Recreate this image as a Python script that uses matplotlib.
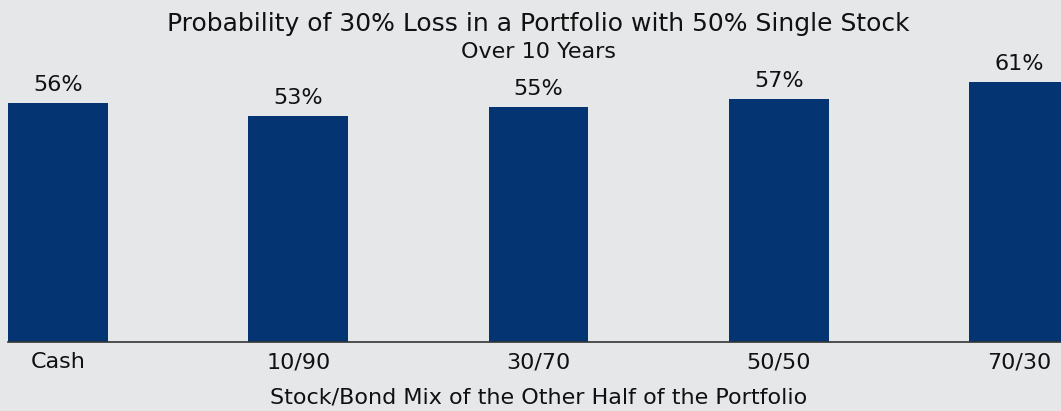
import matplotlib
matplotlib.use("Agg")
import matplotlib.pyplot as plt

# chart data
categories = ["Cash", "10/90", "30/70", "50/50", "70/30"]
probabilities = [56, 53, 55, 57, 61]

BG = "#e6e7e9"
NAVY = "#053473"

plt.rcParams['font.family'] = ['DejaVu Sans']

fig = plt.figure(figsize=(10.61, 4.11), dpi=100, facecolor=BG)
W, H = 1061, 411

# axes spans from left edge of first bar to right edge of last bar (beyond figure)
left_px, right_px = 8, 1069
base_px, top_px = 342, 60
ax = fig.add_axes([left_px / W, (H - base_px) / H,
                   (right_px - left_px) / W, (base_px - top_px) / H])
ax.set_facecolor(BG)

x = list(range(len(categories)))
bars = ax.bar(x, probabilities, width=0.416, color=NAVY, zorder=2)
ax.set_xlim(-0.208, len(categories) - 1 + 0.208)
ax.set_ylim(0, (base_px - top_px) / 4.27)

for bar, p in zip(bars, probabilities):
    ax.annotate(f"{p}%", (bar.get_x() + bar.get_width() / 2, p),
                xytext=(0, 8.5), textcoords="offset points",
                ha='center', va='baseline', fontsize=16, color='#111111',
                annotation_clip=False)

ax.set_xticks(x)
ax.set_xticklabels(categories, fontsize=16, color='#111111')
ax.tick_params(axis='x', length=0, pad=7.5)
ax.set_yticks([])
for side in ['left', 'right', 'top']:
    ax.spines[side].set_visible(False)
ax.spines['bottom'].set_color('#333333')
ax.spines['bottom'].set_linewidth(1.2)

ax.text(0.5, (base_px - 31) / (base_px - top_px), "Probability of 30% Loss in a Portfolio with 50% Single Stock",
        transform=ax.transAxes, ha='center', va='baseline', fontsize=18, color='#111111')
ax.text(0.5, (base_px - 58) / (base_px - top_px), "Over 10 Years",
        transform=ax.transAxes, ha='center', va='baseline', fontsize=16, color='#111111')
ax.text(0.5, (base_px - 403) / (base_px - top_px), "Stock/Bond Mix of the Other Half of the Portfolio",
        transform=ax.transAxes, ha='center', va='baseline', fontsize=16, color='#111111')

fig.savefig("out.png", dpi=100, facecolor=BG)
